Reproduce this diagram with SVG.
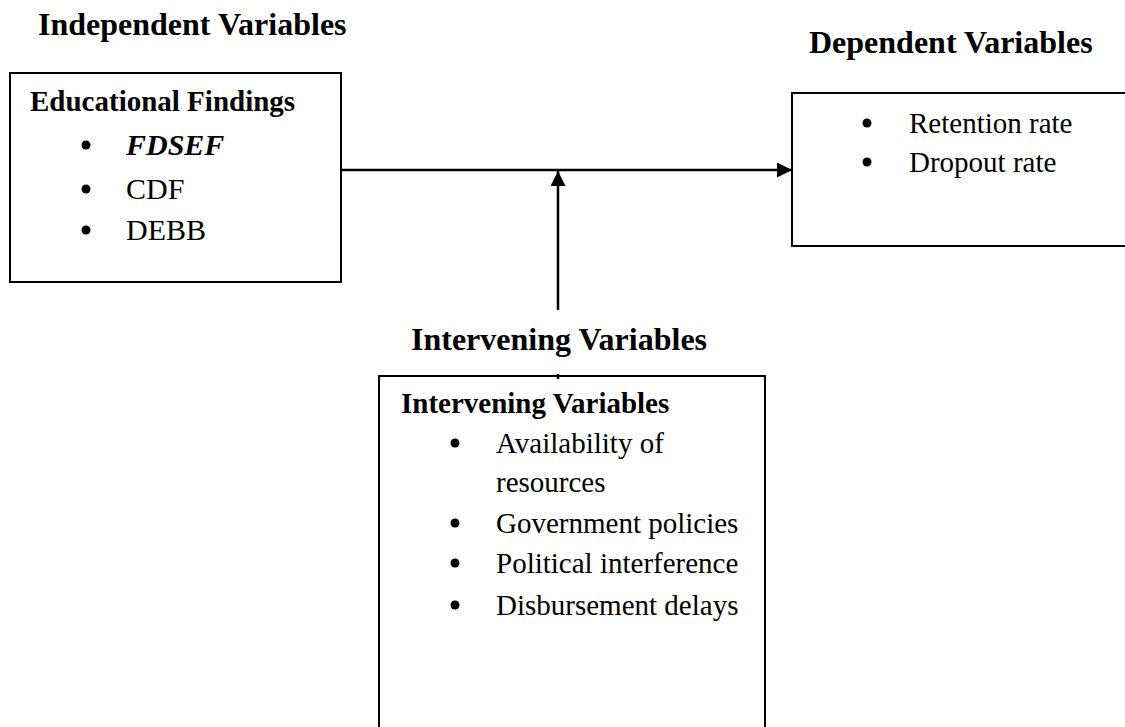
<svg xmlns="http://www.w3.org/2000/svg" width="1125" height="727" viewBox="0 0 1125 727">
<style>
.t{font-family:"Liberation Serif","Times New Roman",serif;fill:#000}
.h{font-size:32px;font-weight:bold}
.bh{font-size:29px;font-weight:bold}
.it{font-size:29px}
.box{fill:#fff;stroke:#000;stroke-width:2}
.ln{stroke:#000;stroke-width:2.5;fill:none}
</style>
<defs>
<marker id="ah" markerWidth="16" markerHeight="15" refX="15" refY="7.5" orient="auto" markerUnits="userSpaceOnUse">
<path d="M0,0 L15,7.5 L0,15 Z" fill="#000"/>
</marker>
<circle id="dot" r="4.5" fill="#000"/>
</defs>
<rect width="1125" height="727" fill="#fff"/>
<text class="t h" x="38" y="35">Independent Variables</text>
<text class="t h" x="809" y="53">Dependent Variables</text>
<text class="t h" x="411" y="350">Intervening Variables</text>
<g id="independent">
<rect class="box" x="10" y="73" width="331" height="209"/>
<text class="t bh" x="30" y="111">Educational Findings</text>
<use href="#dot" x="86" y="145"/>
<text class="t it" x="126" y="155" font-weight="bold" font-style="italic" style="font-size:30px">FDSEF</text>
<use href="#dot" x="86" y="189"/>
<text class="t it" x="126" y="199" style="font-size:30px">CDF</text>
<use href="#dot" x="86" y="230"/>
<text class="t it" x="126" y="240" style="font-size:30px">DEBB</text>
</g>
<g id="dependent">
<rect class="box" x="792" y="93" width="400" height="153"/>
<use href="#dot" x="867" y="123"/>
<text class="t it" x="909" y="133">Retention rate</text>
<use href="#dot" x="867" y="162"/>
<text class="t it" x="909" y="172">Dropout rate</text>
</g>
<g id="intervening">
<rect class="box" x="379" y="376" width="386" height="400"/>
<text class="t bh" x="401" y="413">Intervening Variables</text>
<use href="#dot" x="455" y="443"/>
<text class="t it" x="496" y="453">Availability of</text>
<text class="t it" x="496" y="492">resources</text>
<use href="#dot" x="455" y="523"/>
<text class="t it" x="496" y="533">Government policies</text>
<use href="#dot" x="455" y="563"/>
<text class="t it" x="496" y="573">Political interference</text>
<use href="#dot" x="455" y="605"/>
<text class="t it" x="496" y="615">Disbursement delays</text>
</g>
<g id="connectors">
<line class="ln" x1="341" y1="170" x2="792" y2="170" marker-end="url(#ah)"/>
<line class="ln" x1="558" y1="310" x2="558" y2="171" marker-end="url(#ah)"/>
<line class="ln" x1="558" y1="374" x2="558" y2="379" stroke-width="1.5"/>
</g>
</svg>
